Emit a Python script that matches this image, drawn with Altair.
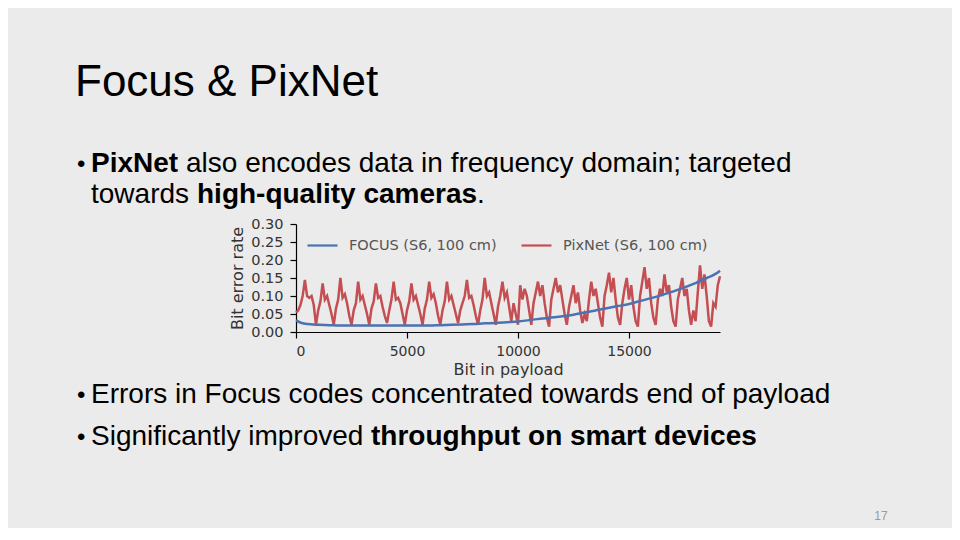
import altair as alt
import pandas as pd

# ---- chart data ----
FOCUS_LABEL = "FOCUS (S6, 100 cm)"
PIXNET_LABEL = "PixNet (S6, 100 cm)"

focus_bits = [0, 250, 500, 1000, 1500, 2000, 2500, 3000, 3500, 4000, 4500,
              5000, 5500, 6000, 6500, 7000, 7500, 8000, 8500, 9000, 9500,
              10000, 10500, 11000, 11500, 12000, 12500, 13000, 13500, 14000,
              14500, 15000, 15500, 16000, 16500, 17000, 17500, 18000, 18500,
              19000, 19100]
focus_ber = [0.032, 0.025, 0.022, 0.020, 0.019, 0.018, 0.018, 0.018, 0.018,
             0.018, 0.018, 0.018, 0.018, 0.018, 0.019, 0.020, 0.021, 0.022,
             0.024, 0.025, 0.027, 0.029, 0.033, 0.037, 0.040, 0.044, 0.048,
             0.054, 0.060, 0.066, 0.072, 0.078, 0.086, 0.094, 0.103, 0.113,
             0.124, 0.136, 0.150, 0.165, 0.170]

# PixNet sampled every 100 bits
pixnet_ber = [
    0.055, 0.06, 0.075, 0.10,
    0.145, 0.10, 0.095, 0.10, 0.075, 0.02, 0.06, 0.085,
    0.135, 0.09, 0.10, 0.075, 0.05, 0.02, 0.065, 0.09,
    0.15, 0.095, 0.105, 0.08, 0.045, 0.02, 0.06, 0.08,
    0.14, 0.09, 0.10, 0.075, 0.05, 0.02, 0.065, 0.085,
    0.135, 0.095, 0.10, 0.07, 0.045, 0.025, 0.06, 0.09,
    0.14, 0.09, 0.095, 0.08, 0.05, 0.02, 0.06, 0.085,
    0.135, 0.09, 0.10, 0.075, 0.05, 0.02, 0.065, 0.09,
    0.14, 0.095, 0.105, 0.08, 0.045, 0.02, 0.06, 0.085,
    0.14, 0.09, 0.10, 0.075, 0.05, 0.025, 0.06, 0.08, 0.10,
    0.145, 0.095, 0.10, 0.075, 0.045, 0.02, 0.06, 0.09,
    0.15, 0.10, 0.11, 0.08, 0.05, 0.02, 0.07, 0.10,
    0.14, 0.095, 0.11, 0.07, 0.03, 0.08, 0.05, 0.02,
    0.13, 0.09, 0.12, 0.10, 0.06, 0.02, 0.08, 0.11,
    0.14, 0.10, 0.13, 0.08, 0.04, 0.015, 0.09, 0.12,
    0.15, 0.11, 0.13, 0.09, 0.05, 0.02, 0.07, 0.10,
    0.13, 0.08, 0.11, 0.06, 0.025, 0.05, 0.03, 0.09,
    0.14, 0.10, 0.12, 0.08, 0.04, 0.015, 0.10, 0.13,
    0.165, 0.11, 0.15, 0.09, 0.04, 0.02, 0.08, 0.12,
    0.15, 0.09, 0.13, 0.07, 0.03, 0.015, 0.10, 0.14,
    0.18, 0.12, 0.15, 0.08, 0.04, 0.02, 0.09, 0.12, 0.10,
    0.16, 0.11, 0.13, 0.07, 0.03, 0.015, 0.09, 0.12,
    0.15, 0.10, 0.12, 0.06, 0.02, 0.06, 0.03, 0.11,
    0.185, 0.12, 0.16, 0.10, 0.03, 0.015, 0.08, 0.07,
    0.13, 0.155,
]
pixnet_bits = [i * 100 for i in range(len(pixnet_ber))]

x_ticks = [0, 5000, 10000, 15000]
y_ticks = [0.0, 0.05, 0.10, 0.15, 0.20, 0.25, 0.30]

# ---- slide text ----
SLIDE_TITLE = "Focus & PixNet"
BULLET = "\u2022"
LINE1 = ["PixNet", "also encodes data in frequency domain; targeted"]
LINE2 = ["towards", "high-quality cameras", "."]
LINE3 = "Errors in Focus codes concentrated towards end of payload"
LINE4 = ["Significantly improved", "throughput on smart devices"]
PAGE_NO = "17"

focus = pd.DataFrame({"bit": focus_bits, "ber": focus_ber, "series": FOCUS_LABEL})
pixnet = pd.DataFrame({"bit": pixnet_bits, "ber": pixnet_ber, "series": PIXNET_LABEL})

x_enc = alt.X(
    "bit:Q",
    scale=alt.Scale(domain=[0, 19100], nice=False, zero=False),
    axis=alt.Axis(values=x_ticks, format="d", title="Bit in payload",
                  labelPadding=6, titlePadding=3),
)
y_enc = alt.Y(
    "ber:Q",
    scale=alt.Scale(domain=[0, 0.30], nice=False),
    axis=alt.Axis(values=y_ticks, format=".2f", title="Bit error rate",
                  labelPadding=7, labelFontSize=14.5, titlePadding=5),
)
color_enc = alt.Color(
    "series:N",
    scale=alt.Scale(domain=[FOCUS_LABEL, PIXNET_LABEL], range=["#4c72b0", "#c44e52"]),
    legend=alt.Legend(
        title=None,
        orient="none",
        legendX=10,
        legendY=5,
        direction="horizontal",
        symbolType="stroke",
        symbolSize=900,
        symbolStrokeWidth=2.2,
        labelFont="DejaVu Sans",
        labelFontSize=14.5,
        labelColor="#555",
        labelOffset=10,
        columnPadding=20,
        padding=0,
    ),
)

red = alt.Chart(pixnet).mark_line(strokeWidth=2.5).encode(x=x_enc, y=y_enc, color=color_enc)
blue = alt.Chart(focus).mark_line(strokeWidth=2.5, interpolate="monotone").encode(
    x=x_enc, y=y_enc, color=color_enc
)


def slide_text(text, x, y, size=28, weight="normal", color="#000", align="left"):
    # x, y are pixels relative to the plot origin
    return (
        alt.Chart(alt.Data(values=[{}]))
        .mark_text(
            text=text,
            align=align,
            baseline="alphabetic",
            font="Liberation Sans",
            fontSize=size,
            fontWeight=weight,
            color=color,
        )
        .encode(x=alt.value(x), y=alt.value(y))
    )


texts = [
    slide_text(SLIDE_TITLE, -221, -128, size=44),
    slide_text(BULLET, -219, -52, size=24),
    slide_text(LINE1[0], -205, -52, weight="bold"),
    slide_text(LINE1[1], -110, -52),
    slide_text(LINE2[0], -205, -21),
    slide_text(LINE2[1], -99, -21, weight="bold"),
    slide_text(LINE2[2], 181, -21),
    slide_text(BULLET, -219, 179, size=24),
    slide_text(LINE3, -205, 179),
    slide_text(BULLET, -219, 221, size=24),
    slide_text(LINE4[0], -205, 221),
    slide_text(LINE4[1], 75, 221, weight="bold"),
    slide_text(PAGE_NO, 585, 296, size=12, color="#999", align="center"),
]

chart = (
    alt.layer(red, blue, *texts)
    .properties(
        width=424,
        height=108,
        padding={"left": 288, "top": 216, "right": 232, "bottom": 196},
        autosize=alt.AutoSizeParams(type="none"),
    )
    .configure(background="#ebebeb")
    .configure_view(stroke=None)
    .configure_axis(
        grid=False,
        domainColor="#000",
        domainWidth=1.2,
        tickColor="#000",
        tickWidth=1.2,
        tickSize=6,
        labelFont="DejaVu Sans",
        labelFontSize=14,
        labelColor="#333",
        titleFont="DejaVu Sans",
        titleFontSize=16,
        titleFontWeight="normal",
        titleColor="#333",
    )
)

chart.save("out.html", embed_options={"renderer": "svg", "actions": False})
